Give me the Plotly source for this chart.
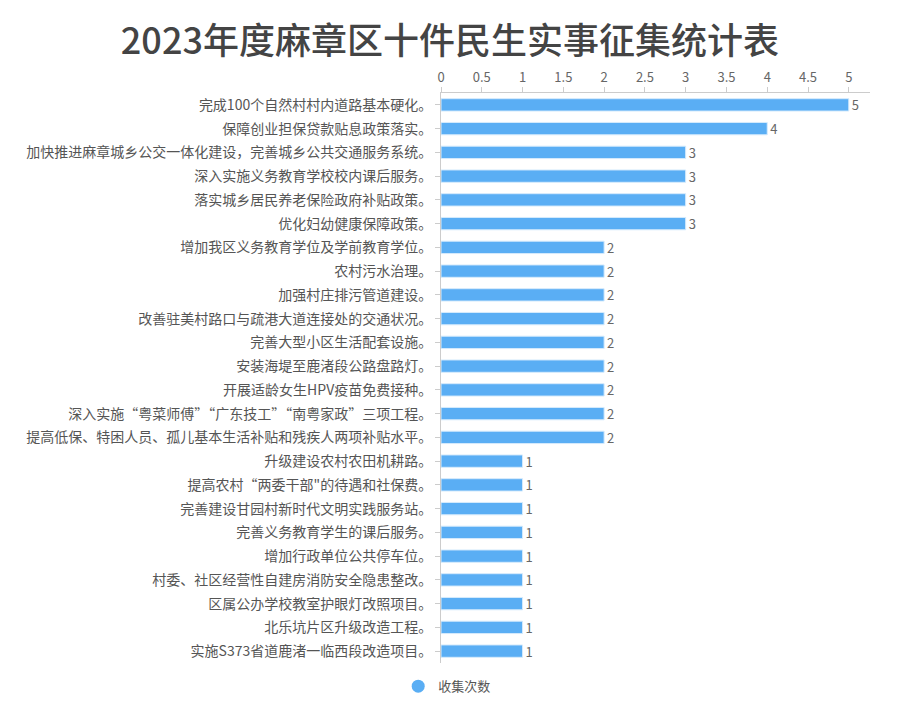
import plotly.graph_objects as go

title = "2023年度麻章区十件民生实事征集统计表"
series_name = "收集次数"
categories = [
    "完成100个自然村村内道路基本硬化。",
    "保障创业担保贷款贴息政策落实。",
    "加快推进麻章城乡公交一体化建设，完善城乡公共交通服务系统。",
    "深入实施义务教育学校校内课后服务。",
    "落实城乡居民养老保险政府补贴政策。",
    "优化妇幼健康保障政策。",
    "增加我区义务教育学位及学前教育学位。",
    "农村污水治理。",
    "加强村庄排污管道建设。",
    "改善驻美村路口与疏港大道连接处的交通状况。",
    "完善大型小区生活配套设施。",
    "安装海堤至鹿渚段公路盘路灯。",
    "开展适龄女生HPV疫苗免费接种。",
    "深入实施“粤菜师傅”“广东技工”“南粤家政”三项工程。",
    "提高低保、特困人员、孤儿基本生活补贴和残疾人两项补贴水平。",
    "升级建设农村农田机耕路。",
    "提高农村“两委干部\"的待遇和社保费。",
    "完善建设甘园村新时代文明实践服务站。",
    "完善义务教育学生的课后服务。",
    "增加行政单位公共停车位。",
    "村委、社区经营性自建房消防安全隐患整改。",
    "区属公办学校教室护眼灯改照项目。",
    "北乐坑片区升级改造工程。",
    "实施S373省道鹿渚一临西段改造项目。",
]
values = [5, 4, 3, 3, 3, 3, 2, 2, 2, 2, 2, 2, 2, 2, 2, 1, 1, 1, 1, 1, 1, 1, 1, 1]

font_family = "Noto Sans CJK SC"
bar_color = "#5aaef4"

fig = go.Figure()
fig.add_trace(go.Bar(
    y=categories,
    x=values,
    orientation="h",
    marker=dict(color=bar_color, line=dict(color="#d6ebfc", width=1)),
    text=values,
    textposition="outside",
    constraintext="none",
    textfont=dict(size=13, color="#666666", family=font_family),
    cliponaxis=False,
    showlegend=False,
    name=series_name,
))
# legend entry with a round marker
fig.add_trace(go.Scatter(
    x=[None], y=[None], mode="markers",
    marker=dict(symbol="circle", size=13, color=bar_color),
    name=series_name, showlegend=True,
))

fig.update_layout(
    width=900, height=720,
    paper_bgcolor="white", plot_bgcolor="white",
    font=dict(family=font_family, color="#555555", size=13),
    title=dict(text=title, x=0.491, xref="container", xanchor="center",
               y=0.953, yanchor="middle",
               font=dict(size=36, color="#444444", family=font_family, weight=500)),
    margin=dict(l=433, r=38, t=85, b=65, autoexpand=False),
    bargap=0.48,
    showlegend=True,
    legend=dict(orientation="h", xref="container", yref="container",
                x=0.488, xanchor="center", y=0.058, yanchor="middle",
                font=dict(size=13, color="#555555"), itemwidth=30),
)
fig.update_xaxes(
    side="top", range=[0, 5.26], dtick=0.5, tick0=0,
    showgrid=False, zeroline=False, automargin=False,
    showline=True, linecolor="#cccccc", linewidth=1,
    ticks="outside", ticklen=5, tickcolor="#cccccc",
    tickfont=dict(size=13, color="#666666"),
)
fig.update_yaxes(
    autorange="reversed", categoryorder="array", categoryarray=categories,
    showgrid=False, zeroline=False, automargin=False,
    showline=True, linecolor="#cccccc", linewidth=1,
    ticks="outside", ticklen=5, tickcolor="#cccccc",
    tickfont=dict(size=14, color="#555555"),
)

fig.write_html("out.html")
